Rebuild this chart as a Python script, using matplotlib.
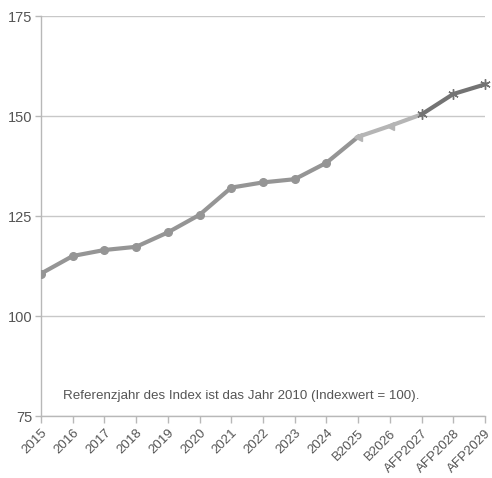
import numpy as np
import matplotlib.pyplot as plt

plt.rcParams['font.family'] = ['Liberation Sans', 'DejaVu Sans']

# Daten
jahre = ['2015', '2016', '2017', '2018', '2019', '2020', '2021', '2022', '2023',
         '2024', 'B2025', 'B2026', 'AFP2027', 'AFP2028', 'AFP2029']
ist = [110.6, 115.0, 116.5, 117.3, 120.9, 125.3, 132.1, 133.4, 134.2, 138.3, 144.8]
budget = [144.8, 147.5, 150.4]
afp = [150.4, 155.5, 157.9]

x = np.arange(len(jahre))
text_col = '#555555'

fig, ax = plt.subplots(figsize=(4.92, 4.78), dpi=100)
fig.subplots_adjust(left=41/492, right=485/492, top=1-16/478, bottom=1-416/478)

# Ist-Werte (Kreise), Budget (Dreiecke), AFP (Sterne)
ax.plot(x[:len(ist)], ist, color='#959595', lw=3, marker='o', ms=5.5,
        markevery=list(range(len(ist) - 1)), zorder=3)
ax.plot(x[10:10+len(budget)], budget, color='#b5b5b5', lw=3, marker='<', ms=6,
        markevery=[0, 1], zorder=4)
ax.plot(x[12:12+len(afp)], afp, color='#737373', lw=3, marker=(6, 2, 0), ms=7.5,
        mew=1.0, zorder=5, clip_on=False)

ax.set_xlim(0, len(jahre) - 1)
ax.set_ylim(75, 175)
ax.set_yticks([75, 100, 125, 150, 175])
ax.set_xticks(x)
ax.set_xticklabels(jahre, rotation=45, ha='right', rotation_mode='anchor')

ax.grid(axis='y', color='#c8c8c8', lw=1)
ax.set_axisbelow(True)
for s in ['top', 'right']:
    ax.spines[s].set_visible(False)
for s in ['left', 'bottom']:
    ax.spines[s].set_color('#b8b8b8')
    ax.spines[s].set_linewidth(1)
ax.tick_params(axis='x', colors='#b8b8b8', labelcolor=text_col, labelsize=9.5,
               length=5, width=1, pad=3)
ax.tick_params(axis='y', colors='#b8b8b8', labelcolor=text_col, labelsize=10.5,
               length=4, width=1, pad=2)

ax.text(0.7, 80, 'Referenzjahr des Index ist das Jahr 2010 (Indexwert = 100).',
        fontsize=9.6, color=text_col, va='center', ha='left')

plt.savefig('out.png', dpi=100)
